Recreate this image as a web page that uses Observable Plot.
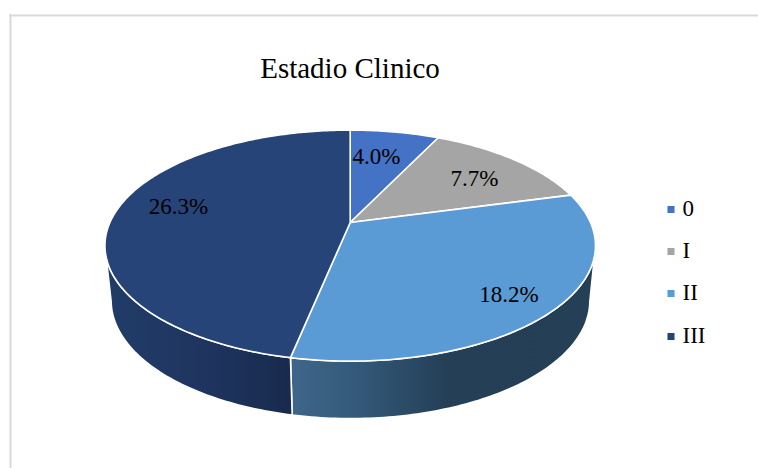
<!DOCTYPE html>
<html>
<head>
<meta charset="utf-8">
<style>html,body{margin:0;padding:0;background:#fff;overflow:hidden}svg{display:block}</style>
<script src="https://cdn.jsdelivr.net/npm/d3@7"></script>
<script src="https://cdn.jsdelivr.net/npm/@observablehq/plot@0.6"></script>
</head>
<body>
<div id="chart"></div>
<script>
// Data
const categories = ["0", "I", "II", "III"];
const percents = [4.0, 7.7, 18.2, 26.3];
const chartTitle = "Estadio Clinico";

// Styles and layout (kept apart from the data)
const topColors = ["#4472c4", "#a5a5a5", "#5b9bd5", "#264478"];
const wallFills = ["#2a4475", "#636363", "url(#wall-ii)", "url(#wall-iii)"];
const labelX = [376, 474, 508.5, 178];
const labelY = [156, 178, 294, 206];
const legendX = 670.5, legendTextX = 682;
const legendY = [208, 250, 292, 335];
const legendSwatchY = [209, 251, 293, 336];

// Perspective of the tilted disc: top face and bottom face
const topFace = {cx: 349.7, cy: 222, a: 240.3, b: 110.9, k: 0.2};
const bottomFace = {cx: 350, cy: 276.6, a: 234.5, b: 113.2, k: 0.2};
const project = (f, t, r = 1) => {
  const u = Math.sin(t) * r, v = -Math.cos(t) * r, d = 1 - f.k * v;
  return [f.cx + f.a * u / d, f.cy + f.b * v / d];
};
// Front of the disc: the part of the rim whose wall can be seen
const frontStart = 102 * Math.PI / 180, frontEnd = 258 * Math.PI / 180;

// Slice angles come from the values
const total = d3.sum(percents);
const cum = d3.cumsum(percents);
const slices = categories.map((c, i) => ({
  category: c,
  value: percents[i],
  t0: ((i ? cum[i - 1] : 0) / total) * 2 * Math.PI,
  t1: (cum[i] / total) * 2 * Math.PI
}));
const arc = (t0, t1, f, reverse) => {
  const n = Math.max(8, Math.ceil((t1 - t0) * 60));
  const pts = d3.range(n + 1).map(j => project(f, t0 + (t1 - t0) * j / n));
  return reverse ? pts.reverse() : pts;
};
const wedges = slices.flatMap(s => {
  const ring = [[topFace.cx, topFace.cy], ...arc(s.t0, s.t1, topFace), [topFace.cx, topFace.cy]];
  return ring.map(([x, y]) => ({x, y, category: s.category}));
});
const wallPoints = s => {
  const t0 = Math.max(s.t0, frontStart), t1 = Math.min(s.t1, frontEnd);
  if (t1 <= t0) return [];
  const ring = [...arc(t0, t1, topFace), ...arc(t0, t1, bottomFace, true)];
  ring.push(ring[0]);
  return ring.map(([x, y]) => ({x, y, category: s.category}));
};

const defs = () => {
  const svgNS = "http://www.w3.org/2000/svg";
  const d = document.createElementNS(svgNS, "defs");
  const grad = (id, x1, x2, stops) => {
    const g = document.createElementNS(svgNS, "linearGradient");
    g.setAttribute("id", id);
    g.setAttribute("gradientUnits", "userSpaceOnUse");
    g.setAttribute("x1", x1); g.setAttribute("x2", x2);
    g.setAttribute("y1", 0); g.setAttribute("y2", 0);
    stops.forEach(([o, c]) => {
      const st = document.createElementNS(svgNS, "stop");
      st.setAttribute("offset", o); st.setAttribute("stop-color", c);
      g.appendChild(st);
    });
    d.appendChild(g);
  };
  grad("wall-ii", 292, 600, [[0, "#3f6588"], [0.2, "#345a7b"], [0.5, "#243f56"], [1, "#253f55"]]);
  grad("wall-iii", 106, 292, [[0, "#213c68"], [0.5, "#1f3560"], [1, "#182a4d"]]);
  return d;
};

const font = "'Liberation Serif','Times New Roman',serif";
const plot = Plot.plot({
  width: 758,
  height: 468,
  margin: 0,
  style: {background: "#fff", fontFamily: font},
  x: {domain: [0, 758], range: [0, 758], axis: null},
  y: {domain: [0, 468], range: [0, 468], axis: null},
  marks: [
    defs,
    // Chart frame (top and left edges are the ones in view)
    Plot.ruleY([15], {x1: 9, x2: 758, stroke: "#d9d9d9", strokeWidth: 2}),
    Plot.ruleX([10], {y1: 14, y2: 468, stroke: "#d9d9d9", strokeWidth: 2}),
    // Walls
    ...slices.map((s, i) => Plot.line(wallPoints(s), {
      x: "x", y: "y", fill: wallFills[i], stroke: "#fff", strokeWidth: 1.6, strokeLinejoin: "round", curve: "linear"
    })),
    // Top faces
    ...slices.map((s, i) => Plot.line(wedges.filter(d => d.category === s.category), {
      x: "x", y: "y", fill: topColors[i], stroke: "#fff", strokeWidth: 1.6, strokeLinejoin: "round", curve: "linear"
    })),
    // Value labels
    Plot.text(slices, {
      x: (d, i) => labelX[i], y: (d, i) => labelY[i],
      text: d => d.value.toFixed(1) + "%",
      fontSize: 23, fill: "#000", fontFamily: font
    }),
    // Title
    Plot.text([chartTitle], {
      x: () => 349.5, y: () => 68.5, text: d => d,
      fontSize: 29, fill: "#000", fontFamily: font
    }),
    // Legend
    Plot.dot(categories, {
      x: () => legendX, y: (d, i) => legendSwatchY[i], symbol: "square", r: 4,
      fill: (d, i) => topColors[i], stroke: "none"
    }),
    Plot.text(categories, {
      x: () => legendTextX, y: (d, i) => legendY[i], text: d => d,
      textAnchor: "start", fontSize: 23, fill: "#000", fontFamily: font
    })
  ]
});
document.getElementById("chart").appendChild(plot);
</script>
</body>
</html>
